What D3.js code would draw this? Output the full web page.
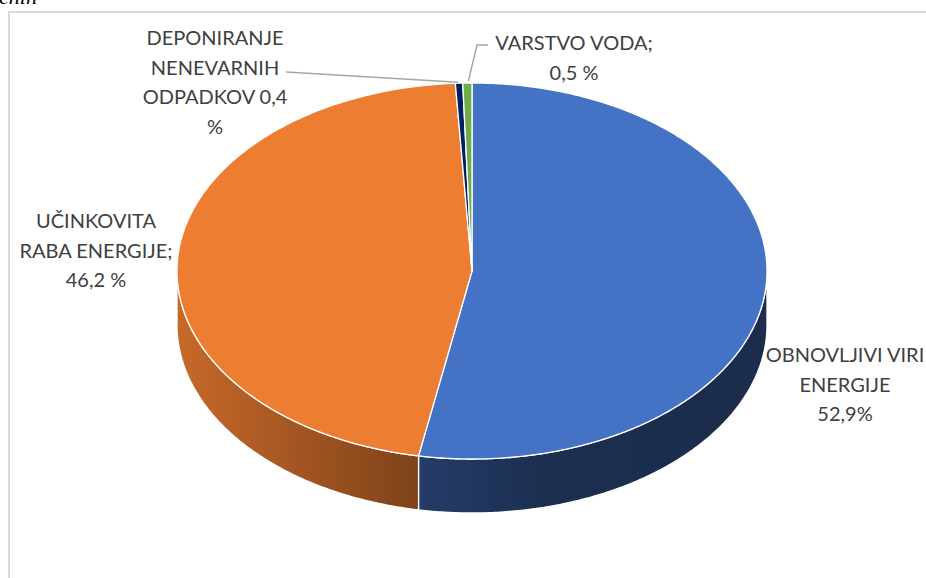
<!DOCTYPE html>
<html>
<head>
<meta charset="utf-8">
<script src="https://cdn.jsdelivr.net/npm/d3@7"></script>
<style>
  body { margin: 0; background: #fff; overflow: hidden; }
  svg { display: block; }
</style>
</head>
<body>
<div id="chart"></div>
<script>
// podatki (v vrstnem redu risanja, v smeri urinega kazalca od vrha)
const categories = ["OBNOVLJIVI VIRI ENERGIJE", "UČINKOVITA RABA ENERGIJE", "DEPONIRANJE NENEVARNIH ODPADKOV", "VARSTVO VODA"];
const values = [52.9, 46.2, 0.4, 0.5];
const colors = ["#4472c4", "#ed7d31", "#002060", "#70ad47"];
const labelLines = [
    ["OBNOVLJIVI VIRI", "ENERGIJE", "52,9%"],
    ["UČINKOVITA", "RABA ENERGIJE;", "46,2 %"],
    ["DEPONIRANJE", "NENEVARNIH", "ODPADKOV 0,4", "%"],
    ["VARSTVO VODA;", "0,5 %"]
];

const width = 926, height = 578;
const cx = 472, cy = 271, rx = 295, ry = 188, depth = 54;

const svg = d3.select("#chart").append("svg")
    .attr("width", width)
    .attr("height", height);

// del napisa iz dokumenta nad grafom (odrezan)
svg.append("text")
    .attr("x", -1).attr("y", 4)
    .attr("font-family", "Liberation Serif")
    .attr("font-style", "italic")
    .attr("font-size", 22)
    .attr("fill", "#000")
    .text("enih");

// okvir grafa
svg.append("rect")
    .attr("x", 9).attr("y", 12)
    .attr("width", 940).attr("height", 600)
    .attr("fill", "none")
    .attr("stroke", "#d9d9d9")
    .attr("stroke-width", 2);

const pie = d3.pie().sort(null).value(d => d)(values);

// točka na elipsi za dani kot (0 = vrh, v smeri urinega kazalca)
const pt = (a, dy = 0) => [cx + rx * Math.sin(a), cy - ry * Math.cos(a) + dy];
const line = d3.line();

function arcPoints(a0, a1, dy = 0) {
    const n = Math.max(2, Math.ceil(Math.abs(a1 - a0) / 0.01));
    return d3.range(n + 1).map(i => pt(a0 + (a1 - a0) * i / n, dy));
}

// senčenje stranic: svetlejše levo, temnejše desno
const defs = svg.append("defs");
pie.forEach((p, i) => {
    const base = d3.rgb(colors[i]);
    const shade = k => d3.rgb(base.r * k, base.g * k, base.b * k).toString();
    const g = defs.append("linearGradient")
        .attr("id", "side" + i)
        .attr("gradientUnits", "userSpaceOnUse")
        .attr("x1", cx - rx).attr("x2", cx + rx)
        .attr("y1", 0).attr("y2", 0);
    [[0, 0.84], [0.41, 0.53], [0.62, 0.41], [1, 0.39]].forEach(([o, k]) => {
        g.append("stop").attr("offset", o).attr("stop-color", shade(k));
    });
});

// stranice (vidna je le sprednja polovica)
const sides = svg.append("g");
pie.forEach((p, i) => {
    const a0 = Math.max(p.startAngle, Math.PI / 2);
    const a1 = Math.min(p.endAngle, 3 * Math.PI / 2);
    if (a1 <= a0) return;
    const top = arcPoints(a0, a1);
    const bottom = arcPoints(a1, a0, depth);
    sides.append("path")
        .attr("d", line(top.concat(bottom)) + "Z")
        .attr("fill", `url(#side${i})`)
        .attr("stroke", "#fff")
        .attr("stroke-width", 1.3)
        .attr("stroke-linejoin", "round");
});

// zgornje ploskve
const tops = svg.append("g");
pie.forEach((p, i) => {
    const pts = [[cx, cy]].concat(arcPoints(p.startAngle, p.endAngle));
    tops.append("path")
        .attr("d", line(pts) + "Z")
        .attr("fill", colors[i])
        .attr("stroke", "#fff")
        .attr("stroke-width", 1.3)
        .attr("stroke-linejoin", "round");
});

// povezovalne črte za majhne rezine
const leader = svg.append("g")
    .attr("fill", "none")
    .attr("stroke", "#a6a6a6")
    .attr("stroke-width", 1.5);
const midDep = pt((pie[2].startAngle + pie[2].endAngle) / 2);
leader.append("path").attr("d", line([[286, 72], [midDep[0] - 1, midDep[1] - 1]]));
const midVar = pt((pie[3].startAngle + pie[3].endAngle) / 2);
leader.append("path").attr("d", line([[midVar[0] + 1, midVar[1] - 2], [477, 45], [488, 45]]));

// oznake
const labelPos = [
    { x: 845, y: 362 },
    { x: 96, y: 228 },
    { x: 215, y: 45 },
    { x: 574, y: 50 }
];
const labels = svg.append("g")
    .attr("font-family", "Lato, 'Open Sans', sans-serif")
    .attr("font-size", 20)
    .attr("fill", "#404040")
    .attr("text-anchor", "middle");
labelLines.forEach((lines, i) => {
    const t = labels.append("text")
        .attr("x", labelPos[i].x)
        .attr("y", labelPos[i].y);
    lines.forEach((s, j) => {
        t.append("tspan")
            .attr("x", labelPos[i].x)
            .attr("dy", j === 0 ? 0 : 29.5)
            .text(s);
    });
});
</script>
</body>
</html>
